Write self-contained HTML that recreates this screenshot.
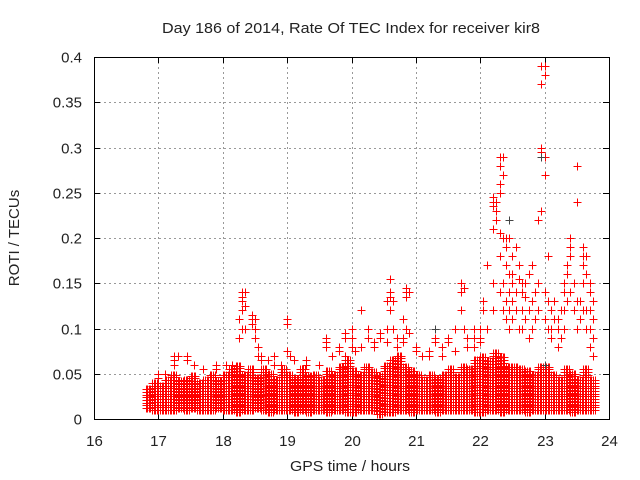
<!DOCTYPE html>
<html><head><meta charset="utf-8"><style>
html,body{margin:0;padding:0;background:#fff}
svg{display:block}
text{font-family:"Liberation Sans",sans-serif;fill:#222;font-size:15px}
</style></head><body>
<svg id="c" width="640" height="480" viewBox="0 0 640 480">
<text x="162" y="33" textLength="378" lengthAdjust="spacingAndGlyphs">Day 186 of 2014, Rate Of TEC Index for receiver kir8</text>
<text x="290" y="471" textLength="120" lengthAdjust="spacingAndGlyphs">GPS time / hours</text>
<text x="19" y="238" text-anchor="middle" transform="rotate(-90 19 238)">ROTI / TECUs</text>
<g id="grid"></g>
<g id="ticks"></g>
<g id="band"></g>
<g id="pts"></g>
<rect x="94.5" y="57.5" width="515" height="362" fill="none" stroke="#000" stroke-width="1"/>
</svg>
<script>
const xTicks=[16,17,18,19,20,21,22,23,24];
const yTicks=[0,0.05,0.1,0.15,0.2,0.25,0.3,0.35,0.4];
const yTickLabels=["0","0.05","0.1","0.15","0.2","0.25","0.3","0.35","0.4"];
const bandTimes=[16.8,16.9,17.0,17.1,17.2,17.3,17.4,17.5,17.6,17.7,17.8,17.9,18.0,18.1,18.2,18.3,18.4,18.5,18.6,18.7,18.8,18.9,19.0,19.1,19.2,19.3,19.4,19.5,19.6,19.7,19.8,19.9,20.0,20.1,20.2,20.3,20.4,20.5,20.6,20.7,20.8,20.9,21.0,21.1,21.2,21.3,21.4,21.5,21.6,21.7,21.8,21.9,22.0,22.1,22.2,22.3,22.4,22.5,22.6,22.7,22.8,22.9,23.0,23.1,23.2,23.3,23.4,23.5,23.6,23.7];
const bandTop=[0.035,0.04,0.038,0.045,0.05,0.042,0.045,0.05,0.04,0.045,0.05,0.043,0.05,0.055,0.06,0.05,0.055,0.045,0.055,0.05,0.043,0.055,0.05,0.045,0.055,0.048,0.05,0.045,0.055,0.05,0.06,0.065,0.055,0.05,0.06,0.052,0.05,0.06,0.065,0.07,0.06,0.055,0.05,0.045,0.05,0.045,0.05,0.055,0.048,0.06,0.055,0.065,0.07,0.065,0.075,0.07,0.06,0.06,0.055,0.055,0.05,0.06,0.06,0.05,0.045,0.055,0.05,0.045,0.055,0.045];
const bandBottom=[0.012,0.01,0.01,0.01,0.01,0.012,0.01,0.012,0.01,0.01,0.01,0.012,0.01,0.01,0.008,0.01,0.01,0.012,0.01,0.008,0.01,0.01,0.01,0.008,0.01,0.008,0.01,0.01,0.008,0.01,0.01,0.008,0.008,0.01,0.01,0.01,0.006,0.008,0.008,0.01,0.01,0.008,0.01,0.01,0.01,0.008,0.01,0.01,0.01,0.01,0.01,0.008,0.008,0.01,0.01,0.008,0.01,0.01,0.01,0.008,0.01,0.01,0.01,0.01,0.01,0.01,0.008,0.01,0.01,0.01];
const outTimes=[17.0,17.1,17.25,17.3,17.45,17.55,17.7,17.9,18.05,18.15,18.25,18.3,18.35,18.45,18.5,18.55,18.6,18.7,18.8,18.9,19.0,19.05,19.1,19.3,19.5,19.6,19.7,19.8,19.9,20.0,20.05,20.15,20.25,20.35,20.45,20.55,20.6,20.65,20.7,20.8,20.85,20.9,21.0,21.1,21.2,21.3,21.4,21.5,21.6,21.7,21.75,21.8,21.9,22.0,22.05,22.1,22.2,22.25,22.3,22.35,22.4,22.45,22.5,22.55,22.6,22.65,22.7,22.75,22.8,22.85,22.9,22.95,23.0,23.05,23.1,23.15,23.2,23.25,23.3,23.35,23.4,23.45,23.5,23.55,23.6,23.65,23.7,23.75];
const outValues=[[0.045,0.05],[0.05],[0.07,0.065,0.06],[0.07],[0.07,0.065],[0.06],[0.055],[0.055,0.06],[0.06],[0.055,0.06],[0.09,0.11],[0.14,0.135,0.13,0.12,0.1],[0.14,0.125,0.1],[0.115,0.11,0.105],[0.11,0.1,0.09],[0.08,0.07],[0.07,0.065],[0.065],[0.06,0.07],[0.06],[0.075,0.11,0.105],[0.07],[0.065],[0.06,0.065],[0.06],[0.09,0.09,0.085,0.08],[0.07],[0.075,0.08],[0.09,0.095,0.07],[0.1,0.09,0.08],[0.075],[0.08,0.12],[0.1,0.09],[0.08,0.085],[0.09,0.095],[0.13,0.1,0.085],[0.155,0.14,0.135,0.12],[0.13,0.1],[0.09,0.08],[0.11,0.09,0.085],[0.145,0.14,0.135,0.1],[0.14,0.095],[0.08,0.075],[0.07],[0.075,0.07],[0.085,0.09,0.1],[0.07,0.08],[0.09,0.09,0.085],[0.1,0.075],[0.15,0.14,0.12],[0.145,0.1],[0.08,0.09],[0.1,0.08,0.09],[0.1,0.09,0.085],[0.13,0.12],[0.17,0.1],[0.24,0.235,0.245,0.21,0.15,0.12],[0.24,0.23,0.22],[0.29,0.28,0.26,0.25,0.205,0.18,0.14],[0.29,0.27,0.2,0.15,0.12],[0.2,0.19,0.17,0.13,0.11],[0.2,0.16,0.14,0.12,0.1],[0.18,0.16,0.15,0.13,0.11],[0.19,0.14,0.12],[0.17,0.155,0.1],[0.15,0.14,0.12,0.1],[0.15,0.135,0.11],[0.16,0.12,0.09],[0.17,0.13,0.1],[0.14,0.11],[0.22,0.22,0.15,0.12],[0.39,0.37,0.3,0.295,0.23],[0.39,0.38,0.29,0.27,0.14,0.11],[0.18,0.13,0.1],[0.12,0.1,0.09],[0.13,0.11],[0.11,0.1,0.08],[0.12,0.09],[0.15,0.14,0.12,0.1],[0.17,0.16,0.13],[0.2,0.19,0.18,0.14],[0.15,0.12],[0.28,0.24,0.13,0.1],[0.13,0.11],[0.19,0.18,0.17,0.15,0.12],[0.18,0.16,0.12,0.1],[0.15,0.14,0.12,0.1,0.08],[0.13,0.11,0.09,0.07]];
const grayTimes=[21.3,22.45,22.95,23.0];
const grayValues=[0.1,0.22,0.29,0.06];

const X0=94,X1=609,Y0=419,Y1=57;
const sx=v=>X0+(v-16)/(24-16)*(X1-X0);
const sy=v=>Y0-(v-0)/(0.4-0)*(Y0-Y1);
const NS="http://www.w3.org/2000/svg";
const grid=document.getElementById('grid'),ticks=document.getElementById('ticks');
function mk(tag,attrs,parent){const e=document.createElementNS(NS,tag);for(const k in attrs)e.setAttribute(k,attrs[k]);parent.appendChild(e);return e;}
const px=v=>Math.round(v)+0.5;
xTicks.forEach((t,i)=>{const x=px(sx(t));
 if(i>0&&i<xTicks.length-1){const g=mk('line',{x1:x,x2:x,y1:Y1,y2:Y0,stroke:'#999','stroke-dasharray':'2,3'},grid);
 
 }
 mk('line',{x1:x,x2:x,y1:Y0,y2:Y0-6,stroke:'#000'},ticks);mk('line',{x1:x,x2:x,y1:Y1,y2:Y1+6,stroke:'#000'},ticks);
 const l=mk('text',{x:x,y:Y0+27,'text-anchor':'middle'},ticks);l.textContent=String(t);
 
 
});
yTicks.forEach((v,i)=>{const y=px(sy(v));
 if(i>0&&i<yTicks.length-1){const g=mk('line',{x1:X0,x2:X1,y1:y,y2:y,stroke:'#999','stroke-dasharray':'2,3'},grid);
 
 }
 mk('line',{x1:X0,x2:X0+6,y1:y,y2:y,stroke:'#000'},ticks);mk('line',{x1:X1,x2:X1-6,y1:y,y2:y,stroke:'#000'},ticks);
 const l=mk('text',{x:X0-12,y:y+5,'text-anchor':'end'},ticks);l.textContent=yTickLabels[i];
 
 
});
const cross=(x,y)=>{x=px(x);y=px(y);return `M${x-4} ${y}h8M${x} ${y-4}v8`;};
const band=document.getElementById('band');
bandTimes.forEach((t,i)=>{let d='';
 [t,t+0.025,t+0.05,t+0.075].forEach(tt=>{for(let v=bandBottom[i];v<=bandTop[i]+1e-9;v+=0.003){d+=cross(sx(tt),sy(v));}});
 const p=mk('path',{d:d,stroke:'#f00','stroke-width':1,fill:'none'},band);
 
 
});
const pts=document.getElementById('pts');
outTimes.forEach((t,i)=>{let d='';outValues[i].forEach(v=>{d+=cross(sx(t),sy(v));});
 const p=mk('path',{d:d,stroke:'#f00','stroke-width':1,fill:'none'},pts);
 
 
});
grayTimes.forEach((t,i)=>{const p=mk('path',{d:cross(sx(t),sy(grayValues[i])),stroke:'#444','stroke-width':1,fill:'none'},pts);
 
 
});
</script>
</body></html>
